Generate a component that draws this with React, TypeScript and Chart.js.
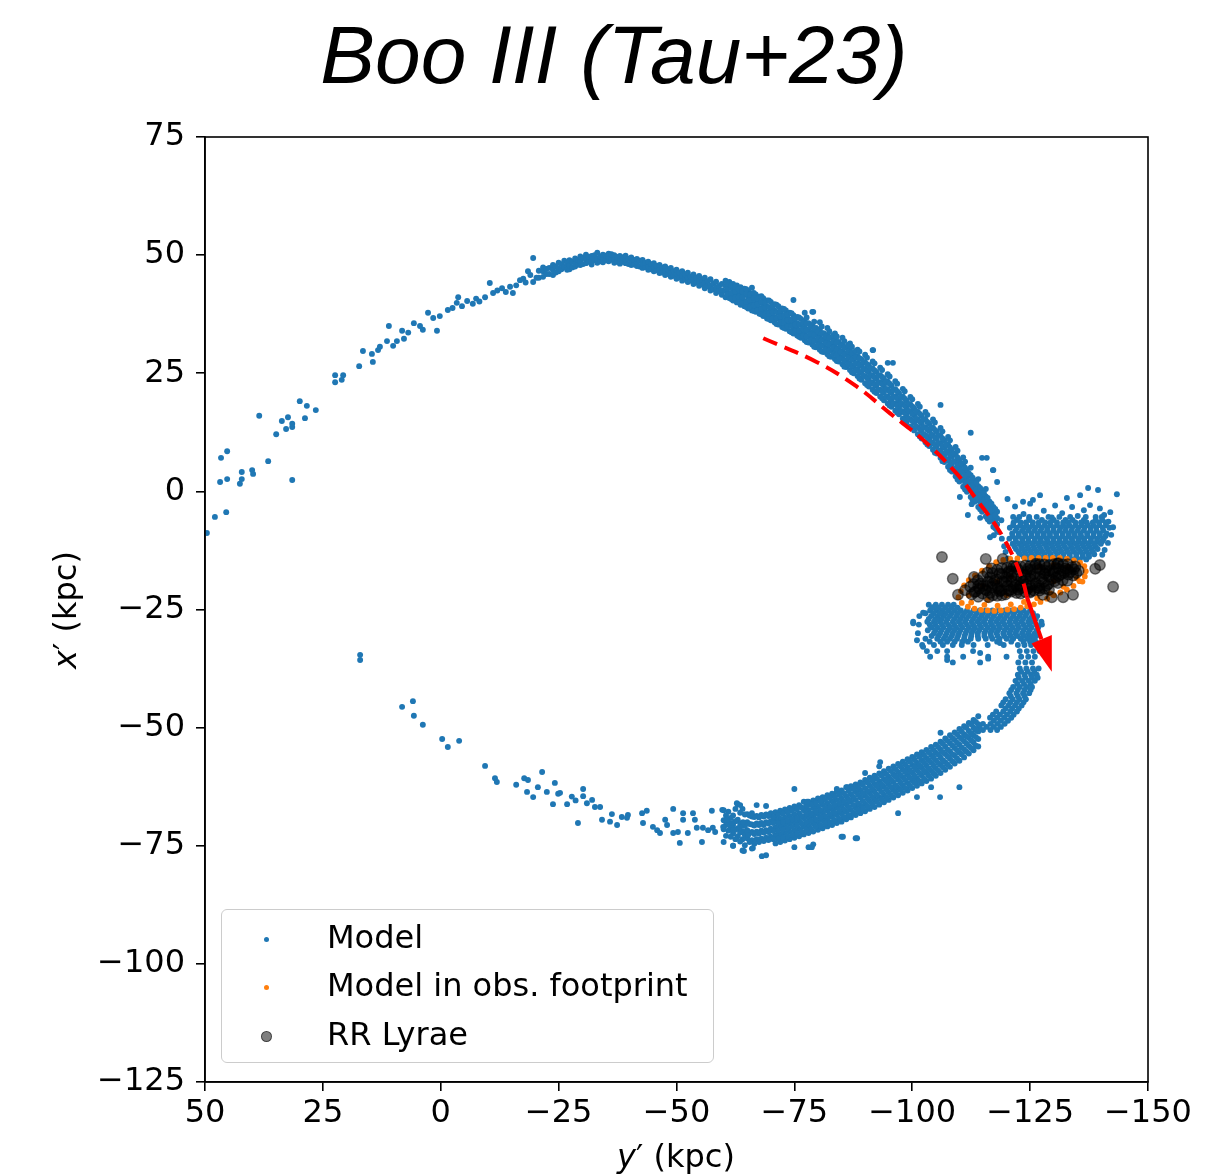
import React, { useEffect, useRef } from "react";
import { Chart, registerables } from "chart.js";

Chart.register(...registerables);

type Pt = { x: number; y: number };
type Line = [number, number[]];

// ---------- tick values ----------
const xTickValues = [50, 25, 0, -25, -50, -75, -100, -125, -150];
const yTickValues = [75, 50, 25, 0, -25, -50, -75, -100, -125];

const titleText = "Boo III (Tau+23)";
const legendLabels = ["Model", "Model in obs. footprint", "RR Lyrae"];

// ---------- Model: sparse leading tail (upper left) [x, y] ----------
const modelUpperTail: [number, number][] = [
  [49.6, -8.8], [47.9, -5.4], [45.5, -4.4], [46.8, 2.0], [45.3, 2.6], [46.6, 7.1], [45.3, 8.5],
  [42.6, 1.6], [42.2, 2.6], [42.2, 4.1], [40.0, 4.5], [39.8, 3.7], [36.6, 6.4], [31.5, 2.4],
  [38.5, 16.0], [34.9, 12.1], [33.7, 14.9], [32.4, 15.7], [32.8, 13.2], [31.5, 13.6], [31.5, 14.3],
  [28.8, 15.5], [29.9, 19.1], [28.4, 18.1], [26.5, 17.2], [22.4, 24.6], [22.4, 23.1], [21.0, 23.6],
  [20.7, 24.6], [17.3, 26.5], [16.5, 29.7], [14.4, 27.4], [14.6, 29.1], [13.3, 29.9], [12.9, 30.6],
  [11.0, 35.0], [11.4, 31.8], [10.1, 30.8], [9.3, 31.8], [8.2, 34.0], [7.8, 32.3], [6.9, 33.6],
  [5.7, 35.6], [4.4, 35.0], [3.8, 34.2], [2.7, 37.8], [1.6, 36.7], [0.8, 34.0], [0.2, 37.1],
  [-1.5, 38.4], [-2.5, 38.8], [-3.4, 39.9], [-3.7, 41.1], [-4.5, 39.2], [-5.6, 40.3], [-6.8, 39.7],
  [-7.5, 40.8], [-8.2, 40.2], [-9.4, 41.1], [-10.4, 44.1], [-11.1, 42.0], [-12.0, 42.5], [-13.0, 43.0],
  [-13.8, 42.2], [-14.7, 43.3], [-15.3, 42.0], [-16.0, 43.6], [-16.8, 44.7], [-17.5, 45.0], [-18.0, 44.2],
  [-18.5, 46.6], [-19.0, 45.8], [-19.6, 49.4], [-19.6, 44.3], [-20.3, 45.2],
];

// ---------- Model: upper arc near apocentre, columns [x, [y...]] ----------
const modelUpperArcTop: Line[] = [
  [-20.8, [45.2, 46.7]], [-21.7, [45.4, 46.6, 47.4]], [-22.4, [46.0, 47.1]], [-23.0, [46.0, 47.3]],
  [-23.8, [45.8, 46.9, 47.9]], [-24.4, [46.3, 47.6]], [-25.0, [46.6, 47.2, 48.4]], [-25.6, [47.0, 48.1]],
  [-26.2, [47.5, 48.8]], [-26.8, [46.9, 48.3]], [-27.3, [47.0, 47.8, 48.9]], [-27.9, [47.4, 48.6]],
  [-28.5, [47.6, 48.2, 49.3]], [-29.1, [48.0, 49.0]], [-29.6, [47.9, 48.6, 49.7]], [-30.2, [48.1, 49.4]],
  [-30.8, [48.3, 49.2, 50.1]], [-31.4, [48.6, 49.6]], [-32.0, [48.0, 48.7, 49.8]], [-32.6, [48.9, 50.0]],
  [-33.2, [48.4, 49.2, 50.5]], [-33.8, [48.7, 49.7]], [-34.4, [48.5, 49.1, 50.1]], [-35.0, [48.9, 49.9]],
  [-35.6, [48.7, 49.6, 50.3]], [-36.2, [49.0, 50.2]], [-36.8, [48.4, 49.2, 50.0]], [-37.4, [48.6, 49.6]],
  [-38.0, [48.2, 48.8, 49.8]], [-38.6, [48.6, 49.5]], [-39.2, [48.3, 49.1, 49.9]], [-39.8, [48.1, 49.2]],
  [-40.4, [47.9, 48.6, 49.5]], [-41.0, [48.0, 49.0]], [-41.6, [47.7, 48.5, 49.2]], [-42.2, [47.6, 48.8]],
  [-42.8, [47.3, 48.2, 49.0]], [-43.4, [47.5, 48.4]], [-44.0, [46.9, 47.6, 48.6]], [-44.6, [47.0, 48.1]],
  [-45.2, [46.6, 47.4, 48.3]], [-45.8, [46.8, 47.7]], [-46.4, [46.2, 47.0, 47.9]], [-47.0, [46.3, 47.4]],
  [-47.6, [45.8, 46.7, 47.6]], [-48.2, [46.0, 47.0]], [-48.8, [45.4, 46.3, 47.3]], [-49.4, [45.6, 46.6]],
  [-50.0, [45.0, 46.0, 46.9]], [-50.6, [45.3, 46.3]], [-51.2, [44.6, 45.6, 46.6]], [-51.8, [44.9, 45.9]],
  [-52.4, [44.3, 45.2, 46.3]], [-53.0, [44.6, 45.5]], [-53.6, [43.9, 44.9, 45.9]], [-54.2, [44.2, 45.2]],
  [-54.8, [43.5, 44.5, 45.6]], [-55.4, [43.8, 44.8]], [-56.0, [43.0, 44.1, 45.2]], [-56.6, [43.4, 44.5]],
  [-57.2, [42.5, 43.6, 44.9]], [-57.8, [42.8, 44.0]], [-58.4, [42.0, 43.2, 44.4]], [-59.0, [42.4, 43.5]],
  [-59.6, [41.6, 42.6, 43.9]],
];

// ---------- Model: upper arc descending towards the progenitor, columns [x, [y...]] ----------
const modelUpperArcFall: Line[] = [
  [-60.4, [41.1, 42.4, 43.5, 44.6]], [-61.2, [40.9, 41.9, 43.2, 44.3]], [-62.0, [40.4, 41.6, 42.7, 43.9]],
  [-62.8, [40.0, 41.3, 42.2, 43.6]], [-63.6, [39.5, 40.8, 41.9, 43.2]], [-64.4, [39.2, 40.3, 41.6, 42.9]],
  [-65.2, [38.7, 39.9, 41.2, 42.4]], [-66.0, [38.3, 39.6, 40.5, 41.9, 43.1]], [-66.8, [38.0, 39.1, 40.3, 41.7]],
  [-67.6, [37.6, 38.8, 39.9, 41.2]], [-68.4, [37.1, 38.3, 39.6, 40.9]], [-69.2, [36.6, 37.9, 39.1, 40.4]],
  [-70.0, [36.2, 37.4, 38.6, 40.1]], [-70.8, [35.8, 36.9, 38.3, 39.6]], [-71.6, [35.3, 36.6, 37.8, 39.2]],
  [-72.4, [34.8, 36.1, 37.4, 38.7]], [-73.2, [34.4, 35.5, 36.9, 38.3]], [-74.0, [33.9, 35.2, 36.4, 37.8]],
  [-74.8, [33.4, 34.7, 36.0, 37.3, 40.5]], [-75.6, [33.0, 34.3, 35.6, 36.9]], [-76.4, [32.5, 33.7, 35.2, 36.5]],
  [-77.2, [32.0, 33.4, 34.6, 36.1, 37.8]], [-78.0, [31.5, 32.9, 34.2, 35.6]], [-78.8, [31.1, 32.3, 33.7, 35.2, 38.0]],
  [-79.6, [30.5, 31.9, 33.3, 34.6]], [-80.4, [30.0, 31.3, 32.7, 34.2, 35.8]], [-81.2, [29.5, 30.9, 32.2, 33.5]],
  [-82.0, [29.0, 30.3, 31.8, 33.1, 34.6]], [-82.8, [28.5, 29.9, 31.2, 32.6]], [-83.6, [28.0, 29.3, 30.7, 32.2, 33.4]],
  [-84.4, [27.5, 28.8, 30.2, 31.6]], [-85.2, [26.9, 28.3, 29.6, 31.1, 32.5]], [-86.0, [26.3, 27.6, 29.2, 30.5]],
  [-86.8, [25.7, 27.1, 28.5, 29.9, 31.3]], [-87.6, [25.0, 26.4, 27.9, 29.2]], [-88.4, [24.4, 25.8, 27.2, 28.6, 30.0]],
  [-89.2, [23.6, 25.1, 26.6, 28.0]], [-90.0, [22.9, 24.4, 25.9, 27.3, 28.9]], [-90.8, [22.2, 23.7, 25.2, 26.7]],
  [-91.6, [21.5, 23.0, 24.5, 26.0, 27.5, 29.9]], [-92.4, [20.8, 22.3, 23.8, 25.3]], [-93.2, [20.1, 21.5, 23.1, 24.6, 26.2]],
  [-94.0, [19.3, 20.9, 22.4, 23.9]], [-94.8, [18.6, 20.1, 21.6, 23.2, 24.8, 27.2]], [-95.6, [17.9, 19.3, 20.9, 22.4]],
  [-96.4, [17.1, 18.6, 20.1, 21.6, 23.3]], [-97.2, [16.3, 17.8, 19.3, 20.8]], [-98.0, [15.4, 16.9, 18.5, 20.1, 21.7]],
  [-98.8, [14.6, 16.1, 17.7, 19.2]], [-99.6, [13.7, 15.3, 16.9, 18.4, 20.0]], [-100.4, [12.9, 14.5, 16.1, 17.6]],
  [-101.2, [12.1, 13.6, 15.2, 16.8, 18.5]], [-102.0, [11.2, 12.8, 14.4, 16.0]], [-102.8, [10.4, 11.9, 13.6, 15.2, 16.8]],
  [-103.6, [9.6, 11.1, 12.8, 14.3]], [-104.4, [8.8, 10.3, 11.9, 13.5, 15.2]], [-105.2, [8.0, 9.5, 11.1, 12.7]],
  [-106.0, [7.1, 8.6, 10.2, 11.8, 13.4, 18.3]], [-106.8, [6.2, 7.7, 9.3, 10.8]], [-107.6, [5.2, 6.7, 8.3, 9.9, 11.5]],
  [-108.4, [4.2, 5.7, 7.3, 8.8]], [-109.2, [3.2, 4.7, 6.3, 7.8, 9.4]], [-110.0, [2.1, 3.6, 5.1, 6.6]],
  [-110.8, [1.0, 2.5, 4.1, 5.6, 7.2]], [-111.6, [-0.1, 1.4, 3.0, 4.5]], [-112.4, [-1.2, 0.3, 1.9, 3.4, 5.0, 12.4]],
  [-113.2, [-2.2, -0.7, 0.8, 2.3]], [-114.0, [-3.3, -1.9, -0.4, 1.1, 2.6]], [-114.8, [-4.3, -2.9, -1.5, 0.0, 7.1]],
  [-115.6, [-5.3, -4.0, -2.6, -1.1, 0.5]], [-116.4, [-6.4, -5.0, -3.6, -2.2]], [-117.2, [-7.5, -6.1, -4.7, -3.3, 4.5]],
  [-118.0, [-8.4, -7.0, -5.7, -4.3, 2.0]],
];

// in-between stars of the same stretch, columns [x, [y...]]
const modelUpperArcFallFill: Line[] = [
  [-60.8, [41.7, 42.9, 44.0]], [-61.6, [40.7, 42.0, 43.6]], [-62.4, [41.0, 42.3, 43.3]], [-63.2, [40.2, 41.2, 42.8]],
  [-64.0, [39.8, 41.1, 42.3]], [-64.8, [39.0, 40.1, 41.9, 42.8]], [-65.6, [39.1, 40.5, 41.6]], [-66.4, [38.2, 39.4, 40.9, 42.0]],
  [-67.2, [38.4, 39.6, 40.8]], [-68.0, [37.5, 38.6, 40.1, 41.3]], [-68.8, [37.4, 38.9, 40.0]], [-69.6, [36.5, 37.6, 39.0, 40.4]],
  [-70.4, [36.6, 37.9, 39.3]], [-71.2, [35.4, 36.7, 38.0, 39.5]], [-72.0, [35.7, 37.0, 38.2]], [-72.8, [34.6, 35.9, 37.2, 38.6]],
  [-73.6, [34.9, 36.2, 37.4]], [-74.4, [33.7, 35.0, 36.2, 37.7]], [-75.2, [33.9, 35.3, 36.6]], [-76.0, [32.7, 34.0, 35.3, 36.8]],
  [-76.8, [32.9, 34.3, 35.7]], [-77.6, [31.6, 32.8, 34.1, 35.5, 36.8]], [-78.4, [32.0, 33.3, 34.8]],
  [-79.2, [30.6, 31.8, 33.1, 34.5, 35.9]], [-80.0, [31.0, 32.4, 33.8]], [-80.8, [29.6, 30.8, 32.1, 33.5, 34.9]],
  [-81.6, [30.0, 31.4, 32.8]], [-82.4, [28.6, 29.8, 31.1, 32.5, 33.9]], [-83.2, [29.0, 30.4, 31.7, 33.0]],
  [-84.0, [27.6, 28.9, 30.1, 31.5, 32.8]], [-84.8, [28.1, 29.5, 30.8]], [-85.6, [26.4, 27.7, 29.0, 30.4, 31.8]],
  [-86.4, [26.9, 28.3, 29.6, 31.0]], [-87.2, [25.2, 26.6, 27.9, 29.3, 30.6]], [-88.0, [25.6, 27.0, 28.4, 29.7]],
  [-88.8, [23.9, 25.3, 26.8, 28.2, 29.6]], [-89.6, [24.5, 25.9, 27.4]], [-90.4, [22.5, 24.0, 25.5, 26.9, 28.3]],
  [-91.2, [22.9, 24.5, 26.0]], [-92.0, [21.1, 22.6, 24.1, 25.6, 27.1]], [-92.8, [21.5, 23.0, 24.5]],
  [-93.6, [19.7, 21.2, 22.7, 24.2, 25.7]], [-94.4, [20.0, 21.6, 23.1]], [-95.2, [18.2, 19.7, 21.2, 22.8, 24.3]],
  [-96.0, [18.5, 20.0, 21.5]], [-96.8, [16.7, 18.2, 19.7, 21.2, 22.8]], [-97.6, [17.0, 18.5, 20.0]],
  [-98.4, [15.0, 16.6, 18.1, 19.6, 21.2]], [-99.2, [15.4, 17.0, 18.5]], [-100.0, [13.3, 14.9, 16.4, 18.0, 19.5]],
  [-100.8, [13.8, 15.4, 16.9]], [-101.6, [11.6, 13.2, 14.8, 16.4, 17.9]], [-102.4, [12.1, 13.6, 15.3]],
  [-103.2, [9.9, 11.5, 13.1, 14.7, 16.2]], [-104.0, [10.4, 12.0, 13.6]], [-104.8, [8.2, 9.8, 11.4, 13.0, 14.6]],
  [-105.6, [8.6, 10.2, 11.9]], [-106.4, [6.4, 8.0, 9.6, 11.2, 12.7]], [-107.2, [6.8, 8.4, 10.0]],
  [-108.0, [4.5, 6.1, 7.7, 9.3, 10.8]], [-108.8, [4.8, 6.4, 8.0]], [-109.6, [2.5, 4.0, 5.6, 7.2, 8.6]],
  [-110.4, [2.8, 4.4, 5.9]], [-111.2, [0.4, 1.9, 3.4, 5.0, 6.3]], [-112.0, [0.6, 2.2, 3.8]],
  [-112.8, [-1.8, -0.2, 1.3, 2.9]], [-113.6, [-1.2, 0.4, 1.8]], [-114.4, [-3.8, -2.3, -0.8, 0.7]],
  [-115.2, [-3.4, -1.9, -0.4]], [-116.0, [-5.9, -4.3, -2.9, -1.4]], [-116.8, [-5.5, -4.0, -2.6]],
  [-117.6, [-7.8, -6.5, -5.1, -3.7]],
];

// ---------- Model: scattered points around the progenitor [x, y] ----------
const modelJunction: [number, number][] = [
  [-115.8, 7.1], [-117.1, 4.5], [-110.1, -1.2], [-111.8, -5.0], [-114.4, -5.6], [-116.5, -9.7], [-112.6, -2.7],
  [-116.5, -5.5], [-117.6, -7.0], [-118.2, -8.6], [-119.0, -10.0], [-119.5, -11.6], [-118.9, -6.1], [-119.8, -12.8],
  [-120.3, -14.2], [-117.3, -9.3], [-79.0, 38.0], [-91.7, 29.9], [-95.9, 27.2],
  [-127.1, -0.8], [-123.5, -2.2], [-125.6, -1.8], [-132.8, -1.4], [-137.3, 0.7], [-139.4, 0.3], [-143.4, -0.6],
  [-135.6, -0.8], [-120.2, -1.6], [-121.8, -3.2], [-123.6, -4.8], [-125.0, -2.6], [-127.9, -4.1], [-129.6, -5.5],
  [-130.3, -3.0], [-131.8, -4.6], [-133.9, -3.3], [-135.1, -5.2], [-136.4, -4.0], [-137.7, -2.9], [-139.8, -3.6],
  [-140.7, -5.0], [-142.0, -4.4], [-141.6, -6.4], [-142.6, -7.6], [-142.2, -9.2], [-141.5, -10.9], [-140.8, -12.4],
  [-140.3, -13.4], [-124.8, -5.8],
];

// ---------- Model: upper blob, rows [y, [x...]] ----------
const modelUpperBlob: Line[] = [
  [-5.4, [-121.4, -122.7, -124.8, -126.4, -128.9, -131.2, -133.5, -136.8, -138.9, -140.2]],
  [-6.05, [-122.2, -124.9, -127.5, -130.0, -132.5, -134.0, -136.4, -138.9, -140.3]],
  [-6.6, [-121.5, -123.0, -124.1, -125.6, -126.8, -128.2, -129.3, -130.7, -132.0, -133.1, -134.6, -135.8, -137.0, -138.3, -139.6, -141.0]],
  [-7.15, [-121.4, -122.9, -124.2, -125.5, -126.8, -128.1, -129.4, -130.7, -132.0, -133.3, -134.6, -135.9, -137.2, -138.4, -139.7, -141.1]],
  [-7.7, [-120.7, -122.2, -123.6, -124.8, -126.1, -127.5, -128.7, -130.0, -131.4, -132.6, -133.9, -135.2, -136.5, -137.8, -139.0, -140.4, -141.8]],
  [-8.3, [-121.9, -123.3, -124.6, -125.9, -127.2, -128.6, -129.9, -131.2, -132.5, -133.8, -135.1, -136.4, -137.8, -139.1, -140.5]],
  [-8.9, [-121.2, -122.6, -123.9, -125.3, -126.6, -127.9, -129.2, -130.5, -131.9, -133.2, -134.4, -135.7, -137.1, -138.5, -139.8, -141.2]],
  [-9.45, [-121.3, -122.6, -124.0, -125.3, -126.6, -127.9, -129.2, -130.6, -131.9, -133.2, -134.5, -135.8, -137.1, -138.4, -139.8, -141.0]],
  [-10.0, [-120.6, -121.9, -123.3, -124.6, -126.0, -127.2, -128.5, -129.9, -131.2, -132.5, -133.8, -135.2, -136.4, -137.9, -139.2, -140.6]],
  [-10.55, [-122.0, -123.4, -124.7, -126.0, -127.3, -128.7, -130.0, -131.3, -132.6, -134.0, -135.3, -136.6, -137.9, -139.2, -140.3]],
  [-11.1, [-121.3, -122.7, -124.0, -125.4, -126.7, -128.0, -129.4, -130.7, -132.0, -133.4, -134.7, -136.0, -137.3, -138.6, -140.0]],
  [-11.65, [-121.7, -123.1, -124.4, -125.7, -127.0, -128.4, -129.7, -131.0, -132.3, -133.7, -135.0, -136.3, -137.6, -138.9]],
  [-12.2, [-122.0, -123.4, -124.7, -126.0, -127.3, -128.7, -130.0, -131.3, -132.7, -134.0, -135.3, -136.7, -138.0, -139.3]],
  [-12.75, [-122.5, -123.8, -125.1, -126.4, -127.7, -129.0, -130.4, -131.7, -133.0, -134.3, -135.7, -137.0, -138.3]],
  [-13.3, [-122.8, -124.1, -125.4, -126.8, -128.1, -129.4, -130.8, -132.1, -133.4, -134.8, -136.1, -137.4, -138.6]],
  [-13.85, [-123.6, -125.0, -126.4, -127.8, -129.2, -130.6, -132.0, -133.4, -134.8, -136.2, -137.5]],
  [-14.4, [-124.5, -126.0, -127.4, -128.8, -130.1, -131.5, -132.8, -134.2, -135.5, -136.9]],
];

// ---------- Model: lower blob, rows [y, [x...]] ----------
const modelLowerBlob: Line[] = [
  [-24.0, [-103.5, -105.0, -106.3, -107.6, -108.8]],
  [-24.6, [-104.2, -105.6, -107.0, -108.3, -109.6]],
  [-25.2, [-103.8, -105.1, -106.4, -107.7, -109.0, -110.3, -111.6, -113.0, -114.3, -115.6, -117.0, -118.3, -119.6, -121.0, -122.3, -123.6, -125.0]],
  [-25.8, [-102.8, -104.5, -105.8, -107.1, -108.4, -109.7, -111.0, -112.3, -113.7, -115.0, -116.3, -117.6, -119.0, -120.3, -121.6, -123.0, -124.3, -125.6]],
  [-26.4, [-101.5, -104.0, -105.4, -106.7, -108.0, -109.4, -110.7, -112.0, -113.3, -114.7, -116.0, -117.3, -118.7, -120.0, -121.4, -122.7, -124.0, -125.4, -126.5]],
  [-27.0, [-103.5, -104.9, -106.2, -107.5, -108.9, -110.2, -111.5, -112.9, -114.2, -115.5, -116.9, -118.2, -119.5, -120.9, -122.2, -123.5, -124.9, -126.2]],
  [-27.6, [-100.2, -103.2, -104.6, -105.9, -107.2, -108.6, -109.9, -111.2, -112.6, -113.9, -115.2, -116.6, -117.9, -119.2, -120.6, -121.9, -123.2, -124.6, -125.8, -127.4]],
  [-28.2, [-101.4, -103.7, -104.9, -106.3, -107.6, -108.9, -110.3, -111.6, -112.9, -114.3, -115.6, -116.9, -118.3, -119.6, -120.9, -122.3, -123.6, -124.9, -126.3, -127.5]],
  [-28.8, [-104.0, -105.3, -106.6, -108.0, -109.3, -110.6, -112.0, -113.3, -114.6, -116.0, -117.3, -118.6, -120.0, -121.3, -122.6, -124.0, -125.3, -126.7]],
  [-29.4, [-103.3, -104.9, -106.2, -107.6, -108.9, -110.2, -111.6, -112.9, -114.2, -115.6, -116.9, -118.2, -119.6, -120.9, -122.2, -123.6, -124.9, -126.4]],
  [-30.0, [-101.2, -104.6, -105.9, -107.3, -108.6, -109.9, -111.3, -112.6, -113.9, -115.3, -116.6, -117.9, -119.3, -120.6, -121.9, -123.3, -124.6, -126.0]],
  [-30.6, [-104.1, -105.6, -107.0, -108.4, -109.7, -111.1, -112.5, -113.9, -115.3, -116.7, -118.1, -119.5, -120.9, -122.3, -123.7, -125.1, -126.3]],
  [-31.2, [-102.8, -105.3, -106.7, -108.0, -109.5, -111.0, -112.4, -114.0, -115.6, -117.0, -118.5, -120.0, -121.4, -123.0, -124.5, -125.8]],
  [-31.8, [-103.7, -106.0, -107.4, -109.0, -110.6, -111.8, -118.0, -121.0, -123.6, -125.0, -126.2]],
  [-32.5, [-102.1, -104.6, -106.5, -108.6, -110.5, -113.0, -116.0, -119.4, -122.4, -123.8, -125.2, -126.5]],
  [-33.8, [-103.1, -105.3, -107.4, -112.9, -122.8, -124.3, -125.7, -127.0]],
  [-35.0, [-103.8, -107.4, -110.8, -116.1, -120.0, -123.1, -124.6, -126.0]],
  [-36.2, [-108.6, -114.4, -122.5, -124.0, -125.4]],
];

const modelLowerBlobEdge: [number, number][] = [
  [-100.2, -27.9], [-101.0, -31.5], [-102.3, -32.9], [-107.4, -35.7], [-114.4, -34.2], [-116.1, -35.4],
  [-118.6, -32.1], [-105.9, -25.8], [-105.2, -27.2], [-102.3, -25.7], [-104.4, -24.5],
];

// ---------- Model: descending stream, rows [y, [x...]] ----------
const modelDescent: Line[] = [
  [-37.5, [-122.8, -124.2, -125.6, -126.8]], [-38.15, [-123.1, -124.5, -125.9]],
  [-38.8, [-122.4, -123.8, -125.2, -126.4]], [-39.45, [-122.6, -124.0, -125.4, -126.6]],
  [-40.1, [-121.9, -123.3, -124.7, -126.0]], [-40.75, [-122.3, -123.7, -125.1]],
  [-41.4, [-121.4, -122.8, -124.2, -125.4]], [-42.05, [-121.0, -122.4, -123.8, -125.1]],
  [-42.7, [-120.6, -122.1, -123.5, -124.8]], [-43.35, [-120.9, -122.4, -123.8]],
  [-44.0, [-119.8, -121.3, -122.7, -124.1]], [-44.65, [-119.3, -120.8, -122.2, -123.6]],
  [-45.3, [-118.9, -120.4, -121.8, -123.2]], [-45.95, [-119.8, -121.2, -122.6]],
  [-46.6, [-117.8, -119.3, -120.8, -122.2]], [-47.25, [-117.1, -118.6, -120.1, -121.5]],
  [-47.9, [-116.5, -118.0, -119.5, -121.0]], [-48.55, [-117.3, -118.8, -120.3]],
  [-49.2, [-115.0, -116.6, -118.1, -119.6]], [-49.85, [-114.2, -115.8, -117.3, -118.8]],
  [-50.5, [-113.4, -115.0, -116.6, -118.0]],
];

// ---------- Model: lower arc, columns [x, [y...]] ----------
const modelLowerArc: Line[] = [
  [-114.0, [-47.6, -49.3, -50.8, -52.4, -54.0]], [-113.0, [-48.4, -50.0, -51.6, -53.1, -54.8]],
  [-112.0, [-49.0, -50.7, -52.2, -53.9, -55.5]], [-111.0, [-49.7, -51.4, -52.9, -54.6, -56.3]],
  [-110.0, [-50.3, -52.0, -53.6, -55.3, -57.0, -62.6]], [-109.0, [-51.0, -52.6, -54.3, -55.9, -57.6]],
  [-108.0, [-51.6, -53.3, -55.0, -56.6, -58.3]], [-107.0, [-52.3, -54.0, -55.6, -57.3, -58.9]],
  [-106.0, [-51.1, -53.0, -54.6, -56.3, -57.9, -59.6]], [-105.0, [-53.6, -55.3, -56.9, -58.6, -60.2]],
  [-104.0, [-54.1, -55.8, -57.4, -59.1, -60.8, -62.6]], [-103.0, [-54.7, -56.4, -58.0, -59.6, -61.3]],
  [-102.0, [-55.2, -56.9, -58.5, -60.1, -61.8]], [-101.0, [-55.7, -57.4, -59.0, -60.7, -62.3, -64.7]],
  [-100.0, [-56.2, -57.9, -59.5, -61.2, -62.8]], [-99.0, [-56.7, -58.4, -60.0, -61.7, -63.3]],
  [-98.0, [-57.2, -58.9, -60.5, -62.2, -63.8]], [-97.0, [-57.7, -59.4, -61.0, -62.7, -64.3, -68.1]],
  [-96.0, [-58.2, -59.9, -61.5, -63.2, -64.8]], [-95.0, [-58.7, -60.4, -62.0, -63.7, -65.3]],
  [-94.0, [-59.2, -60.9, -62.5, -64.2, -65.8]], [-93.0, [-58.2, -59.7, -61.4, -63.0, -64.7, -66.3]],
  [-92.0, [-60.2, -61.9, -63.5, -65.2, -66.8]], [-91.0, [-60.6, -62.3, -63.9, -65.6, -67.2]],
  [-90.0, [-59.6, -61.1, -62.8, -64.4, -66.1, -67.7]], [-89.0, [-61.6, -63.2, -64.8, -66.5, -68.1]],
  [-88.0, [-62.0, -63.6, -65.3, -66.9, -68.5, -73.4]], [-87.0, [-62.4, -64.1, -65.7, -67.4, -69.0]],
  [-86.0, [-62.6, -64.5, -66.2, -67.8, -69.4]], [-85.0, [-63.3, -65.0, -66.6, -68.2, -69.9, -73.1]],
  [-84.0, [-63.6, -65.3, -66.9, -68.5, -70.2]], [-83.0, [-64.0, -65.6, -67.3, -68.9, -70.6]],
  [-82.0, [-64.3, -66.0, -67.6, -69.3, -70.9]], [-81.0, [-64.7, -66.3, -68.0, -69.6, -71.3]],
  [-80.0, [-65.0, -66.7, -68.3, -70.0, -71.6]], [-79.0, [-65.4, -67.0, -68.7, -70.3, -72.0, -74.7]],
  [-78.0, [-65.7, -67.4, -69.0, -70.7, -72.3, -75.3]], [-77.0, [-65.7, -67.5, -69.2, -70.9, -72.6]],
  [-76.0, [-66.4, -68.1, -69.7, -71.4, -73.0]], [-75.0, [-63.0, -66.7, -68.4, -70.0, -71.7, -73.3, -75.3]],
  [-74.0, [-67.0, -68.7, -70.3, -72.0, -73.6]], [-73.0, [-67.3, -69.0, -70.6, -72.3, -73.9]],
  [-72.0, [-67.6, -69.3, -70.9, -72.6, -74.2]], [-71.0, [-67.9, -69.5, -71.2, -72.8, -74.5]],
  [-70.0, [-68.1, -69.8, -71.4, -73.1]], [-69.0, [-66.6, -68.4, -70.0, -71.7, -73.3, -77.0]],
  [-68.0, [-68.5, -70.2, -71.8, -73.5]], [-67.0, [-66.4, -68.7, -70.3, -72.0, -73.6]],
  [-66.0, [-68.8, -70.5, -72.1, -73.8, -75.6]], [-65.0, [-68.3, -70.0, -71.7, -73.4]],
  [-64.0, [-67.2, -70.2, -71.9, -73.6, -76.0]], [-63.0, [-66.2, -69.5, -71.3, -73.0]],
  [-62.0, [-68.6, -70.6, -72.4, -75.0]], [-61.0, [-67.8, -70.0, -71.8]],
  [-60.0, [-67.5, -69.6, -71.5, -74.2]],
];

// in-between stars of the lower arc, columns [x, [y...]]
const modelLowerArcFill: Line[] = [
  [-113.5, [-48.8, -50.4, -52.0, -53.8]], [-112.5, [-49.3, -51.2, -52.7, -54.3]], [-111.5, [-50.0, -51.8, -53.4, -55.1]],
  [-110.5, [-50.8, -52.4, -54.2, -55.7]], [-109.5, [-51.4, -53.2, -54.8, -56.5]], [-108.5, [-52.2, -53.8, -55.6, -57.1]],
  [-107.5, [-52.8, -54.6, -56.1, -57.8]], [-106.5, [-53.4, -55.2, -56.9, -58.4]], [-105.5, [-54.1, -55.7, -57.5, -59.1]],
  [-104.5, [-54.7, -56.3, -58.0, -59.7]], [-103.5, [-55.2, -56.9, -58.6, -60.2]], [-102.5, [-55.8, -57.4, -59.1, -60.8]],
  [-101.5, [-56.2, -58.0, -59.6, -61.3]], [-100.5, [-56.8, -58.4, -60.2, -61.7]], [-99.5, [-57.2, -59.0, -60.6, -62.3]],
  [-98.5, [-57.8, -59.4, -61.1, -62.8]], [-97.5, [-58.2, -60.0, -61.6, -63.2]], [-96.5, [-58.8, -60.4, -62.2, -63.7]],
  [-95.5, [-59.2, -61.0, -62.6, -64.3]], [-94.5, [-59.8, -61.4, -63.1, -64.8]], [-93.5, [-60.2, -62.0, -63.6, -65.2]],
  [-92.5, [-60.8, -62.4, -64.2, -65.7]], [-91.5, [-61.2, -62.9, -64.6, -66.2]], [-90.5, [-61.6, -63.4, -65.0, -66.7]],
  [-89.5, [-62.1, -63.8, -65.5, -67.1]], [-88.5, [-62.6, -64.2, -66.0, -67.5]], [-87.5, [-63.0, -64.7, -66.4, -68.0]],
  [-86.5, [-63.4, -65.2, -66.8, -68.5]], [-85.5, [-63.9, -65.6, -67.3, -68.9]], [-84.5, [-64.2, -66.0, -67.6, -69.3]],
  [-83.5, [-64.6, -66.3, -68.0, -69.6]], [-82.5, [-64.9, -66.7, -68.3, -70.0]], [-81.5, [-65.3, -67.0, -68.7, -70.3]],
  [-80.5, [-65.6, -67.4, -69.0, -70.7]], [-79.5, [-66.0, -67.7, -69.4, -71.0]], [-78.5, [-66.3, -68.1, -69.7, -71.4]],
  [-77.5, [-66.6, -68.3, -70.0, -71.6]], [-76.5, [-66.9, -68.7, -70.3, -72.0]], [-75.5, [-67.3, -69.1, -70.7, -72.4]],
  [-74.5, [-67.6, -69.4, -71.0, -72.7]], [-73.5, [-67.9, -69.7, -71.3, -73.0]], [-72.5, [-68.2, -70.0, -71.6, -73.3]],
  [-71.5, [-68.5, -70.2, -71.9, -73.5]], [-70.5, [-68.9, -70.2, -71.9, -73.6]], [-69.5, [-68.7, -70.3, -72.1, -73.8]],
  [-68.5, [-68.8, -70.6, -72.2, -74.0]], [-67.5, [-69.0, -70.6, -72.4, -74.2]], [-66.5, [-68.9, -70.7, -72.5, -74.6]],
  [-65.5, [-68.6, -70.4, -72.3, -74.2]], [-64.5, [-68.4, -70.8, -72.7, -74.9]], [-63.5, [-68.0, -70.3, -72.2, -74.1]],
  [-62.5, [-67.2, -69.8, -71.6, -73.6]], [-61.5, [-69.1, -71.0, -73.1]], [-60.5, [-68.6, -70.6, -72.9]],
];

const modelLowerArcEdge: [number, number][] = [
  [-105.9, -64.7], [-88.3, -73.4], [-85.3, -73.1], [-78.7, -75.3],
  [-93.2, -57.3], [-86.2, -62.6], [-84.0, -63.0], [-77.7, -65.7], [-68.1, -77.2],
];

// ---------- Model: bottom arc and trailing tail [x, y] ----------
const modelBottomArc: [number, number][] = [
  [-30.2, -63.0], [-30.2, -64.5], [-31.0, -66.0], [-32.1, -65.3], [-32.7, -66.8], [-33.8, -66.8], [-34.2, -69.5],
  [-35.9, -69.9], [-36.3, -68.3], [-37.4, -70.6], [-38.4, -68.9], [-39.7, -68.5], [-39.5, -69.1], [-42.7, -68.1],
  [-42.9, -70.2], [-43.7, -67.6], [-45.0, -71.0], [-45.9, -71.7], [-46.5, -72.3], [-47.6, -69.5], [-48.0, -70.6],
  [-49.3, -67.2], [-49.3, -72.3], [-50.3, -72.1], [-50.7, -74.4], [-51.4, -69.5], [-51.4, -68.1], [-52.4, -72.3],
  [-53.5, -68.1], [-53.9, -69.5], [-54.3, -71.2], [-55.4, -74.2], [-55.6, -71.2], [-56.7, -71.7], [-57.5, -67.6],
  [-57.7, -71.2], [-58.2, -72.1], [-59.7, -67.4], [-59.9, -71.0], [-60.7, -69.5], [-61.8, -70.2], [-62.0, -71.7],
  [-62.0, -75.0], [-62.8, -66.0], [-63.5, -66.4], [-63.5, -71.0], [-64.1, -70.0], [-64.3, -76.1], [-65.0, -72.1],
  [-65.2, -72.7], [-66.0, -68.1], [-66.2, -75.5],
];

const modelLowerTail: [number, number][] = [
  [17.1, -34.6], [17.1, -35.7], [8.2, -45.6], [5.9, -44.4], [5.7, -47.5], [3.8, -49.4], [-0.3, -52.4],
  [-1.5, -54.1], [-3.9, -52.8], [-9.4, -58.1], [-11.5, -60.7], [-11.9, -61.5], [-16.0, -62.1], [-17.7, -60.7],
  [-18.5, -61.1], [-21.5, -59.4], [-18.3, -63.6], [-19.6, -64.7], [-20.6, -62.6], [-22.5, -63.6], [-24.2, -61.7],
  [-23.8, -66.2], [-24.9, -64.0], [-25.3, -63.8], [-26.8, -66.2], [-29.1, -70.2], [-27.8, -64.6], [-28.6, -65.4],
];

// ---------- Model in observational footprint [x, y] ----------
const footprintPoints: [number, number][] = [
  [-110.5, -23.6], [-111.8, -24.4], [-113.2, -24.8], [-114.6, -25.1], [-116.0, -25.2], [-117.4, -25.3],
  [-118.8, -25.2], [-120.2, -25.0], [-121.6, -24.9], [-123.0, -24.6], [-124.4, -24.3], [-125.8, -23.9],
  [-127.2, -23.4], [-128.6, -22.7], [-130.0, -22.0], [-131.4, -21.4], [-132.8, -20.8], [-134.2, -20.0],
  [-135.5, -19.0], [-112.5, -23.5], [-115.3, -24.0], [-118.1, -24.2], [-120.9, -23.9], [-123.7, -23.4],
  [-126.5, -22.6], [-129.3, -21.6], [-132.1, -20.2], [-134.9, -18.4], [-109.8, -22.4], [-110.3, -21.1],
  [-111.0, -19.9], [-112.0, -18.8], [-113.3, -17.8], [-114.8, -16.8], [-116.3, -15.8], [-117.8, -15.0],
  [-119.3, -14.5], [-120.8, -14.3], [-122.3, -14.2], [-123.8, -14.2], [-125.3, -14.1], [-126.8, -14.1],
  [-128.3, -14.1], [-129.8, -14.1], [-131.3, -14.1], [-132.8, -14.3], [-134.3, -14.6], [-135.6, -15.1],
  [-136.5, -15.8], [-136.8, -16.9], [-136.6, -18.0], [-136.1, -19.1], [-115.0, -20.0], [-118.0, -19.0],
  [-121.0, -18.0], [-124.0, -17.0], [-127.0, -16.0], [-130.0, -15.5], [-133.0, -16.0], [-120.0, -22.0],
  [-125.0, -21.0], [-130.0, -19.0], [-116.0, -23.0], [-112.0, -22.0],
];

// ---------- RR Lyrae [x, y] ----------
const rrLyraePoints: [number, number][] = [
  [-112.3, -20.2], [-112.6, -21.8], [-113.9, -18.8], [-114.2, -20.6], [-114.0, -22.3], [-115.9, -17.2],
  [-116.1, -19.1], [-115.8, -21.0], [-116.2, -22.4], [-118.0, -16.6], [-117.8, -18.6], [-118.2, -20.5],
  [-118.0, -22.1], [-120.1, -16.1], [-119.9, -18.1], [-120.2, -20.0], [-119.8, -21.8], [-122.0, -15.9],
  [-122.2, -17.8], [-121.9, -19.8], [-122.1, -21.5], [-124.0, -15.7], [-123.8, -17.7], [-124.2, -19.6],
  [-124.0, -21.3], [-126.1, -15.6], [-125.9, -17.5], [-126.2, -19.4], [-125.8, -21.0], [-128.0, -15.5],
  [-128.2, -17.4], [-127.9, -19.2], [-128.1, -20.6], [-130.1, -15.4], [-129.9, -17.3], [-130.2, -19.0],
  [-132.0, -15.5], [-132.2, -17.2], [-131.9, -18.8], [-133.9, -16.0], [-134.1, -17.8], [-135.3, -16.8],
  [-117.0, -19.5], [-121.0, -19.0], [-125.0, -18.5], [-129.0, -18.0], [-123.0, -20.5], [-119.0, -17.5],
  [-127.0, -16.5], [-131.0, -16.4], [-115.0, -20.0], [-121.0, -16.9], [-125.1, -16.6], [-133.0, -16.6],
  [-113.0, -19.6], [-113.2, -21.3], [-115.0, -18.0], [-114.9, -21.6], [-117.0, -17.3], [-116.9, -20.3],
  [-117.1, -22.0], [-119.0, -16.2], [-119.1, -19.0], [-118.9, -21.0], [-121.0, -15.8], [-121.1, -18.0],
  [-120.9, -20.8], [-123.0, -15.9], [-123.1, -18.2], [-122.9, -19.9], [-123.0, -21.6], [-125.0, -15.8],
  [-125.1, -17.9], [-124.9, -20.1], [-125.0, -21.4], [-127.0, -15.4], [-127.1, -17.9], [-126.9, -20.0],
  [-127.0, -21.0], [-129.0, -15.6], [-129.1, -16.8], [-128.9, -19.6], [-129.0, -20.8], [-131.0, -15.2],
  [-131.1, -17.9], [-130.9, -19.4], [-133.0, -15.4], [-133.1, -17.6], [-132.9, -18.9], [-134.6, -15.9],
  [-134.8, -17.3], [-114.5, -19.5], [-116.5, -18.2], [-118.5, -17.4], [-120.5, -16.9], [-122.5, -16.6],
  [-124.5, -16.4], [-126.5, -16.2], [-128.5, -16.1], [-130.5, -16.2], [-132.5, -16.3], [-116.5, -21.5],
  [-118.5, -21.2], [-120.5, -21.0], [-122.5, -20.8], [-124.5, -20.6], [-126.5, -20.4], [-128.5, -19.9],
  [-130.5, -18.2], [-119.5, -19.2], [-123.5, -18.9], [-127.5, -18.6], [-131.5, -17.6], [-115.5, -20.7],
  [-121.5, -20.3], [-125.5, -19.8], [-129.5, -18.6], [-117.5, -18.9], [-133.5, -17.1], [-114.0, -20.0],
  [-116.0, -20.0], [-118.0, -20.0], [-120.0, -19.0], [-122.0, -19.0], [-124.0, -18.0], [-126.0, -18.0],
  [-128.0, -17.5], [-130.0, -17.0], [-132.0, -16.8], [-119.0, -22.0], [-121.0, -21.2], [-125.0, -21.2],
  [-127.0, -20.5], [-113.5, -21.2], [-116.8, -16.3], [-121.5, -15.8], [-126.2, -15.3], [-130.8, -15.3],
  [-134.3, -16.5], [-120.2, -17.3], [-124.2, -17.0], [-128.2, -16.8], [-118.6, -20.9], [-122.8, -20.1],
  [-106.3, -13.9], [-108.6, -18.5], [-109.7, -21.9], [-111.2, -20.9], [-113.1, -18.1], [-115.6, -14.3],
  [-119.2, -14.3], [-142.6, -20.2], [-139.8, -15.6], [-138.8, -16.4], [-134.1, -21.9], [-132.0, -22.4],
  [-129.6, -22.4], [-127.7, -21.9],
];

// ---------- orbit direction arrow [x, y] ----------
const arrowDashedPath: [number, number][] = [
  [-68.4, 32.4], [-79.7, 27.4], [-88.2, 22.2], [-95.3, 16.5], [-102.3, 10.9],
  [-109.4, 3.8], [-113.7, -1.8], [-117.9, -7.5], [-121.4, -13.8], [-123.6, -19.5], [-124.3, -22.3],
];
const arrowSolidPath: [number, number][] = [[-124.3, -22.3], [-127.4, -31.3]];
const arrowHead: [number, number][] = [[-129.6, -38.2], [-125.3, -32.2], [-129.6, -30.4]];

// ---------- helpers ----------
const fromCols = (c: Line[]): Pt[] => c.flatMap(([x, ys]) => ys.map((y) => ({ x, y })));
const fromRows = (r: Line[]): Pt[] => r.flatMap(([y, xs]) => xs.map((x) => ({ x, y })));
const fromPairs = (p: [number, number][]): Pt[] => p.map(([x, y]) => ({ x, y }));

const fmtTick = (v: number | string) => {
  const n = Number(v);
  return n < 0 ? "\u2212" + Math.abs(n) : String(n);
};

const BLUE = "#1f77b4";
const ORANGE = "#ff7f0e";
const RED = "#ff0000";
const TICK_FONT = { family: "'DejaVu Sans'", size: 32 };

const framePlugin = {
  id: "frame",
  afterDraw(chart: any) {
    const { ctx, chartArea } = chart;
    ctx.save();
    ctx.strokeStyle = "#000";
    ctx.lineWidth = 1.6;
    ctx.strokeRect(chartArea.left, chartArea.top, chartArea.right - chartArea.left, chartArea.bottom - chartArea.top);
    ctx.restore();
  },
};

const arrowHeadPlugin = {
  id: "arrowHead",
  afterDatasetsDraw(chart: any) {
    const { ctx, scales } = chart;
    ctx.save();
    ctx.beginPath();
    arrowHead.forEach(([x, y], i) => {
      const px = scales.x.getPixelForValue(x);
      const py = scales.y.getPixelForValue(y);
      if (i === 0) ctx.moveTo(px, py);
      else ctx.lineTo(px, py);
    });
    ctx.closePath();
    ctx.fillStyle = RED;
    ctx.fill();
    ctx.restore();
  },
};

export default function App() {
  const canvasRef = useRef<HTMLCanvasElement | null>(null);

  useEffect(() => {
    if (!canvasRef.current) return;
    const model: Pt[] = [
      ...fromPairs(modelUpperTail),
      ...fromCols(modelUpperArcTop),
      ...fromCols(modelUpperArcFall),
      ...fromCols(modelUpperArcFallFill),
      ...fromPairs(modelJunction),
      ...fromRows(modelUpperBlob),
      ...fromRows(modelLowerBlob),
      ...fromPairs(modelLowerBlobEdge),
      ...fromRows(modelDescent),
      ...fromCols(modelLowerArc),
      ...fromCols(modelLowerArcFill),
      ...fromPairs(modelLowerArcEdge),
      ...fromPairs(modelBottomArc),
      ...fromPairs(modelLowerTail),
    ];

    const chart = new Chart(canvasRef.current, {
      type: "scatter",
      data: {
        datasets: [
          {
            type: "line",
            label: "arrow",
            data: fromPairs(arrowDashedPath),
            borderColor: RED,
            borderWidth: 4,
            borderDash: [15, 8],
            pointRadius: 0,
            tension: 0.4,
            fill: false,
          } as any,
          {
            type: "line",
            label: "arrow2",
            data: fromPairs(arrowSolidPath),
            borderColor: RED,
            borderWidth: 4,
            pointRadius: 0,
            fill: false,
          } as any,
          {
            label: legendLabels[2],
            data: fromPairs(rrLyraePoints),
            backgroundColor: "rgba(0,0,0,0.5)",
            borderColor: "rgba(0,0,0,0.5)",
            borderWidth: 1.4,
            pointRadius: 5.3,
          },
          {
            label: legendLabels[1],
            data: fromPairs(footprintPoints),
            backgroundColor: ORANGE,
            borderWidth: 0,
            pointRadius: 2.9,
          },
          {
            label: legendLabels[0],
            data: model,
            backgroundColor: BLUE,
            borderWidth: 0,
            pointRadius: 2.95,
          },
        ],
      },
      options: {
        animation: false,
        responsive: false,
        devicePixelRatio: 1,
        events: [],
        layout: { padding: { top: 137, right: 71, bottom: 0, left: 0 } },
        plugins: {
          legend: { display: false },
          tooltip: { enabled: false },
          title: { display: false },
        },
        scales: {
          x: {
            type: "linear",
            min: -150,
            max: 50,
            reverse: true,
            afterBuildTicks: (s: any) => {
              s.ticks = xTickValues.map((v) => ({ value: v }));
            },
            afterFit: (s: any) => {
              s.height = 94;
            },
            ticks: {
              callback: fmtTick,
              font: TICK_FONT,
              color: "#000",
              padding: 3,
              maxRotation: 0,
              autoSkip: false,
            },
            grid: { display: true, drawOnChartArea: false, drawTicks: true, tickLength: 9, color: "#000", lineWidth: 1.6 },
            border: { display: true, color: "#000", width: 1.6 },
            title: { display: false },
          },
          y: {
            type: "linear",
            min: -125,
            max: 75,
            afterBuildTicks: (s: any) => {
              s.ticks = yTickValues.map((v) => ({ value: v }));
            },
            afterFit: (s: any) => {
              s.width = 205;
            },
            ticks: {
              callback: fmtTick,
              font: TICK_FONT,
              color: "#000",
              padding: 11,
              autoSkip: false,
            },
            grid: { display: true, drawOnChartArea: false, drawTicks: true, tickLength: 9, color: "#000", lineWidth: 1.6 },
            border: { display: true, color: "#000", width: 1.6 },
            title: { display: false },
          },
        },
      } as any,
      plugins: [arrowHeadPlugin, framePlugin],
    });
    return () => chart.destroy();
  }, []);

  const textStyle: React.CSSProperties = {
    position: "absolute",
    fontFamily: "'DejaVu Sans'",
    fontSize: 32,
    lineHeight: "38px",
    color: "#000",
    whiteSpace: "nowrap",
  };
  const legendRows = [
    { top: 918, marker: { cx: 266.7, cy: 939.3, d: 5.6, bg: BLUE, border: "none" } },
    { top: 966, marker: { cx: 266.7, cy: 987.7, d: 5.6, bg: ORANGE, border: "none" } },
    { top: 1015, marker: { cx: 266.7, cy: 1036.7, d: 11, bg: "rgba(0,0,0,0.5)", border: "1.5px solid rgba(0,0,0,0.5)" } },
  ];

  return (
    <div style={{ position: "absolute", left: 0, top: 0, width: 1219, height: 1176, background: "#fff", overflow: "hidden" }}>
      <div
        style={{
          position: "absolute",
          left: 0,
          top: 14,
          width: 1228,
          textAlign: "center",
          fontFamily: "'Liberation Sans', Arial, sans-serif",
          fontStyle: "italic",
          fontSize: 82,
          lineHeight: "82px",
          color: "#000",
          whiteSpace: "nowrap",
        }}
      >
        {titleText}
      </div>
      <canvas
        ref={canvasRef}
        width={1219}
        height={1176}
        style={{ position: "absolute", left: 0, top: 0, width: 1219, height: 1176 }}
      />
      <div style={{ ...textStyle, left: 576, top: 1137, width: 200, textAlign: "center" }}>
        <span style={{ fontStyle: "italic" }}>y</span>′ (kpc)
      </div>
      <div
        style={{
          ...textStyle,
          left: -35,
          top: 591,
          width: 200,
          height: 38,
          textAlign: "center",
          transform: "rotate(-90deg)",
        }}
      >
        <span style={{ fontStyle: "italic" }}>x</span>′ (kpc)
      </div>
      <div
        style={{
          position: "absolute",
          left: 221,
          top: 909,
          width: 493,
          height: 154,
          boxSizing: "border-box",
          border: "1.5px solid #cccccc",
          borderRadius: 6,
          background: "rgba(255,255,255,0.8)",
        }}
      />
      {legendRows.map((r, i) => (
        <React.Fragment key={i}>
          <div
            style={{
              position: "absolute",
              left: r.marker.cx - r.marker.d / 2,
              top: r.marker.cy - r.marker.d / 2,
              width: r.marker.d,
              height: r.marker.d,
              boxSizing: "border-box",
              borderRadius: "50%",
              background: r.marker.bg,
              border: r.marker.border,
            }}
          />
          <div style={{ ...textStyle, left: 327, top: r.top }}>{legendLabels[i]}</div>
        </React.Fragment>
      ))}
    </div>
  );
}
